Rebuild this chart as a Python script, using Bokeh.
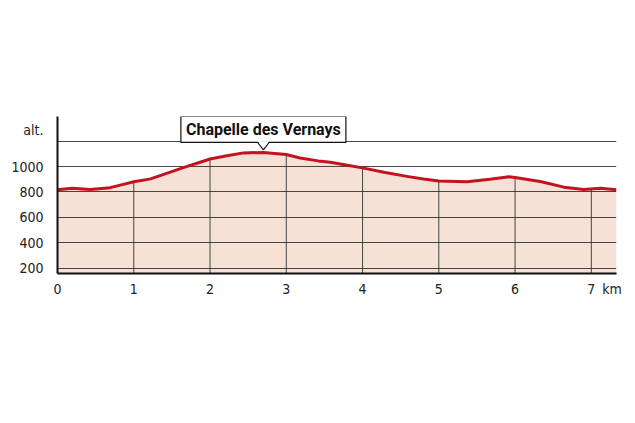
from bokeh.plotting import figure
from bokeh.models import Range1d, FixedTicker, Label
from bokeh.embed import file_html
from bokeh.resources import INLINE
import numpy as np

# Elevation profile (km, m)
km = [0.0, 0.19, 0.43, 0.69, 0.85, 1.0, 1.22, 1.44, 1.66, 1.85, 2.0, 2.22, 2.44, 2.7, 3.0, 3.18,
      3.42, 3.58, 3.8, 4.0, 4.28, 4.58, 4.8, 5.0, 5.37, 5.67, 5.92, 6.0, 6.33, 6.64, 6.9, 7.12, 7.33]
alt = [818, 830, 820, 834, 858, 881, 903, 948, 994, 1030, 1060, 1085, 1108, 1112, 1095, 1068,
       1045, 1034, 1010, 990, 955, 923, 902, 886, 881, 900, 920, 914, 883, 838, 820, 830, 818]

x_ticks = [0, 1, 2, 3, 4, 5, 6, 7]
x_unit_pos = 7.27
x_unit = "km"
y_ticks = [200, 400, 600, 800, 1000]
y_grid = [200, 400, 600, 800, 1000, 1200]
y_unit_pos = 1290
y_unit = "alt."
peak_name = "Chapelle des Vernays"
peak_km = 2.7

x_min, x_max = 0, 7.33
y_min, y_max = 157, 1395

p = figure(width=627, height=313, output_backend="svg", toolbar_location=None,
           x_range=Range1d(x_min, x_max), y_range=Range1d(y_min, y_max),
           min_border_left=57, min_border_right=11, min_border_top=116, min_border_bottom=40)
p.outline_line_color = None
p.xgrid.visible = False
p.ygrid.visible = False
p.background_fill_color = "white"

fill_col = "#f5e1d5"
line_col = "#c3131f"
grid_col = "#333333"

p.varea(x=km, y1=y_min, y2=alt, fill_color=fill_col)
p.hspan(y=y_grid, line_color=grid_col, line_width=0.9)

# vertical km lines inside the area
vx = [t for t in x_ticks if t > 0]
vy = list(np.interp(vx, km, alt))
p.segment(x0=vx, y0=[y_min] * len(vx), x1=vx, y1=vy, line_color=grid_col, line_width=0.9)

p.line(km, alt, line_color=line_col, line_width=3, line_join="round")

# axes
font = "DejaVu Sans Condensed"
p.xaxis.ticker = FixedTicker(ticks=x_ticks + [x_unit_pos])
p.xaxis.major_label_overrides = {x_unit_pos: x_unit}
p.yaxis.ticker = FixedTicker(ticks=y_ticks + [y_unit_pos])
p.yaxis.major_label_overrides = {y_unit_pos: y_unit}
for ax in (p.xaxis, p.yaxis):
    ax.axis_line_color = "#111111"
    ax.axis_line_width = 2
    ax.major_tick_line_color = None
    ax.minor_tick_line_color = None
    ax.major_label_text_font = font
    ax.major_label_text_font_size = "14px"
    ax.major_label_text_color = "#222222"
p.xaxis.major_label_standoff = 1
p.yaxis.major_label_standoff = 8

# peak annotation
peak_alt = float(np.interp(peak_km, km, alt))
box_y = 1293
p.rect(x=[peak_km], y=[box_y], width=165, height=26, width_units="screen",
       height_units="screen", fill_color="white", line_color="#111111", line_width=1.2)
base_y = 1190
half = 0.075
p.patch([peak_km - half, peak_km, peak_km + half], [base_y + 10, peak_alt + 20, base_y + 10],
        fill_color="white", line_color=None)
p.line([peak_km - half, peak_km, peak_km + half], [base_y, peak_alt + 20, base_y],
       line_color="#111111", line_width=1.2)
p.add_layout(Label(x=peak_km, y=box_y, text=peak_name, text_align="center",
                   text_baseline="middle", text_font="Roboto", text_font_style="bold",
                   text_font_size="16px", text_color="#111111"))

open("out.html", "w").write(file_html(p, INLINE))
